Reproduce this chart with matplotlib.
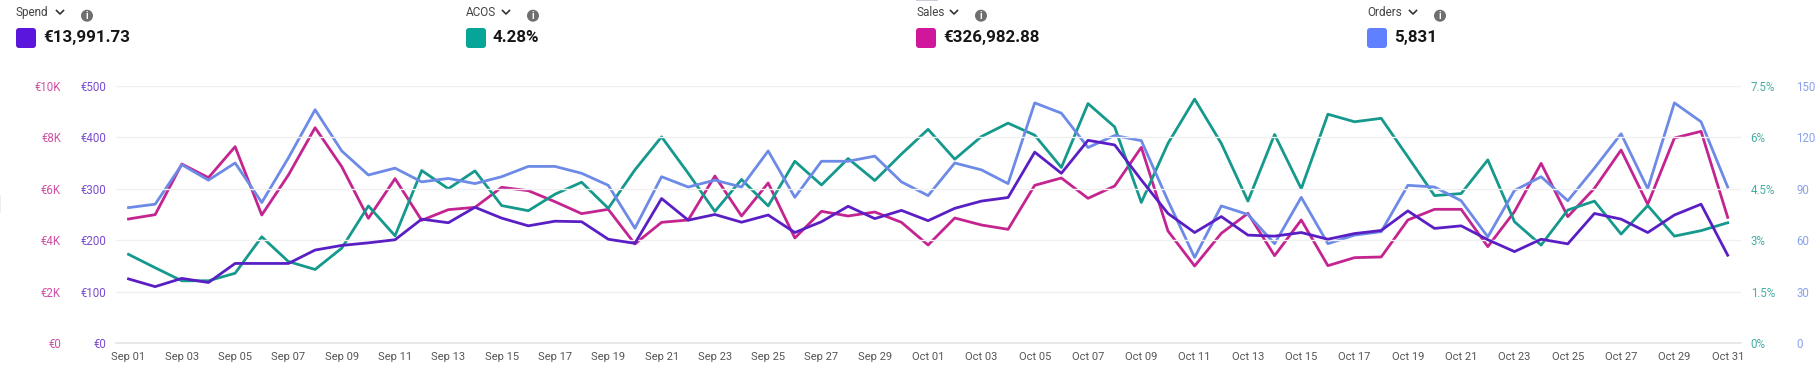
import matplotlib
matplotlib.use('Agg')
import matplotlib.pyplot as plt
from matplotlib.lines import Line2D
from matplotlib.patches import Circle, FancyBboxPatch, Rectangle
from matplotlib.transforms import Affine2D

W, H = 1817, 369

days = (['Sep %02d' % d for d in range(1, 31)] +
	['Oct %02d' % d for d in range(1, 32)])

spend = [125, 110, 126, 118, 155, 155, 155, 181, 190, 195, 201, 241, 234, 264, 243,
	228, 237, 236, 202, 194, 281, 239, 250, 235, 249, 215, 236, 266, 242, 258,
	238, 262, 276, 283, 371, 330, 394, 385, 317, 252, 215, 246, 210, 208, 215,
	202, 213, 219, 257, 223, 228, 201, 178, 202, 193, 252, 241, 215, 249, 270, 171]
acos = [2.59, 2.20, 1.82, 1.82, 2.04, 3.10, 2.38, 2.15, 2.77, 4.00, 3.13, 5.03, 4.50, 5.02, 4.01,
	3.86, 4.34, 4.69, 3.93, 5.05, 6.01, 4.95, 3.84, 4.77, 4.00, 5.30, 4.61, 5.38, 4.74, 5.51,
	6.23, 5.36, 6.02, 6.41, 6.06, 5.12, 6.98, 6.30, 4.10, 5.82, 7.11, 5.82, 4.14, 6.08, 4.50,
	6.67, 6.45, 6.55, 5.43, 4.30, 4.36, 5.34, 3.54, 2.86, 3.88, 4.14, 3.18, 4.01, 3.12, 3.28, 3.51]
sales = [4825, 4994, 6960, 6430, 7633, 4981, 6533, 8370, 6857, 4851, 6391, 4774, 5188, 5278, 6055,
	5925, 5498, 5033, 5201, 3855, 4696, 4787, 6494, 4942, 6223, 4088, 5123, 4942, 5097, 4696,
	3816, 4864, 4593, 4424, 6132, 6417, 5628, 6106, 7607, 4360, 3001, 4269, 5045, 3402, 4787,
	3014, 3325, 3351, 4787, 5201, 5201, 3752, 5110, 6986, 4916, 6016, 7503, 5395, 7969, 8228, 4890]
orders = [79, 81, 104, 95, 105, 82, 108, 136, 112, 98, 102, 94, 96, 93, 97,
	103, 103, 99, 92, 67, 97, 91, 95, 91, 112, 85, 106, 106, 109, 94,
	86, 105, 101, 93, 140, 134, 114, 121, 118, 83, 50, 80, 75, 58, 85,
	58, 63, 65, 92, 91, 83, 62, 89, 97, 83, 102, 122, 90, 140, 129, 91]

spend_ticks = [0, 100, 200, 300, 400, 500]
spend_labels = ['€0', '€100', '€200', '€300', '€400', '€500']
sales_ticks = [0, 2000, 4000, 6000, 8000, 10000]
sales_labels = ['€0', '€2K', '€4K', '€6K', '€8K', '€10K']
acos_ticks = [0, 1.5, 3, 4.5, 6, 7.5]
acos_labels = ['0%', '1.5%', '3%', '4.5%', '6%', '7.5%']
orders_ticks = [0, 30, 60, 90, 120, 150]
orders_labels = ['0', '30', '60', '90', '120', '150']

headers = ['Spend', 'ACOS', 'Sales', 'Orders']
totals = ['€13,991.73', '4.28%', '€326,982.88', '5,831']
swatch_colors = ['#5a16dc', '#07a598', '#d0169a', '#5f80ff']
header_x = [16, 466, 916, 1367]
chevron_x = [60, 506, 954, 1413]
info_x = [87, 533, 981, 1440]

PURPLE, TEAL, MAGENTA, BLUE = '#5a1fc4', '#15998c', '#c4248f', '#6c8ae6'

plt.rcParams['font.family'] = ['Roboto', 'DejaVu Sans']

fig = plt.figure(figsize=(W / 100, H / 100), dpi=100)
# pixel coordinates with origin at the top left, same as the reference
px = Affine2D().scale(1, -1).translate(0, H)

left, right, top, bottom = 116, 1741, 85.7, 343.3
ax = fig.add_axes([left / W, 1 - bottom / H, (right - left) / W, (bottom - top) / H])
ax_sales = ax.twinx()
ax_acos = ax.twinx()
ax_orders = ax.twinx()

x = list(range(len(days)))
# x limits so that Sep 01 lands on px 128.5 and Oct 31 on px 1727.7
step = (1727.7 - 128.5) / 60
xlim = ((left - 128.5) / step, (right - 128.5) / step)


def setup(a, ticks, labels, ymax, color, side, pad):
	a.set_ylim(0, ymax)
	a.set_xlim(*xlim)
	a.set_yticks(ticks)
	a.set_yticklabels(labels, color=color, fontsize=8.3, alpha=0.8)
	a.yaxis.set_ticks_position(side)
	a.tick_params(axis='y', length=0, pad=pad)
	for s in a.spines.values():
		s.set_visible(False)
	a.patch.set_visible(False)


setup(ax, spend_ticks, spend_labels, 500, PURPLE, 'left', 7.2)
setup(ax_sales, sales_ticks, sales_labels, 10000, MAGENTA, 'left', 39.6)
setup(ax_acos, acos_ticks, acos_labels, 7.5, TEAL, 'right', 6.9)
setup(ax_orders, orders_ticks, orders_labels, 150, BLUE, 'right', 39.6)

ax.grid(axis='y', color='#f0f0f0', linewidth=1)
ax.set_axisbelow(True)
ax.spines['bottom'].set_visible(True)
ax.spines['bottom'].set_color('#e4e4e4')
ax.spines['bottom'].set_linewidth(1.2)
ax.set_xticks(x[::2])
ax.set_xticklabels(days[::2], fontsize=8, color='#555555')
ax.tick_params(axis='x', length=0, pad=6)

ax_orders.plot(x, orders, color=BLUE, linewidth=2.0, zorder=3)
ax_acos.plot(x, acos, color=TEAL, linewidth=2.0, zorder=3)
ax_sales.plot(x, sales, color=MAGENTA, linewidth=2.0, zorder=3)
ax.plot(x, spend, color=PURPLE, linewidth=2.0, zorder=3)
# purple on top like the original, axes are stacked in creation order
ax.set_zorder(ax_orders.get_zorder() + 1)
ax.patch.set_visible(False)

# metric headers above the chart
for i, name in enumerate(headers):
	hx = header_x[i]
	fig.text(hx / W, 1 - 12.5 / H, name, fontsize=8.5, color='#444444', va='center')
	cx = chevron_x[i]
	fig.add_artist(Line2D([cx - 3.5, cx, cx + 3.5], [10.5, 14, 10.5], color='#333333',
		linewidth=1.2, transform=px))
	fig.add_artist(FancyBboxPatch((hx + 1.5, 29.5), 17, 17, boxstyle='round,pad=1.5,rounding_size=3',
		facecolor=swatch_colors[i], edgecolor='none', transform=px))
	fig.text((hx + 27) / W, 1 - 37.5 / H, totals[i], fontsize=12.2, fontweight='bold',
		color='#161616', va='center')
	fig.add_artist(Circle((info_x[i], 15.7), 6, facecolor='#6f6f6f', edgecolor='none', transform=px))
	fig.text(info_x[i] / W, 1 - 15.7 / H, 'i', fontsize=7, fontweight='bold', color='white',
		ha='center', va='center')

fig.add_artist(Rectangle((916, 0), 22, 1.2, facecolor='#c9ccd6', edgecolor='none', transform=px))
fig.add_artist(Rectangle((0, 195), 1, 18, facecolor='#eeeeee', edgecolor='none', transform=px))

fig.savefig('out.png', dpi=100)
